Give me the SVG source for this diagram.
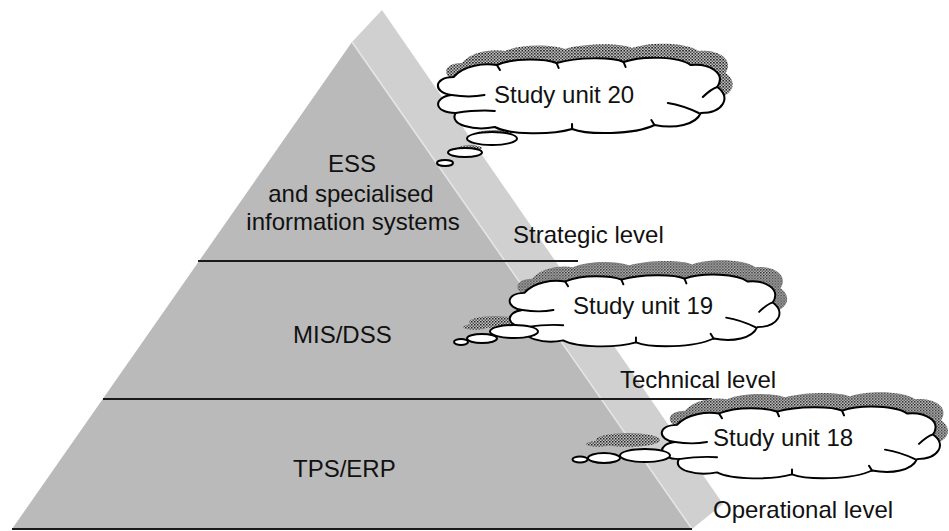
<svg xmlns="http://www.w3.org/2000/svg" xmlns:xlink="http://www.w3.org/1999/xlink" width="949" height="531" viewBox="0 0 949 531">
<style>
text{font-family:"Liberation Sans",Arial,sans-serif;font-size:24px;fill:#111}
.mid{text-anchor:middle}
.body{fill:#fff;stroke:#000;stroke-width:2;stroke-linejoin:round;vector-effect:non-scaling-stroke}
.hook{fill:none;stroke:#000;stroke-width:2;stroke-linecap:round;vector-effect:non-scaling-stroke}
.shadow{fill:url(#dots);stroke:none}
.puff{fill:#fff;stroke:#000;stroke-width:2}
.div{stroke:#1a1a1a;stroke-width:2}
</style>
<defs>
<pattern id="dots" width="3" height="3" patternUnits="userSpaceOnUse">
<rect width="3" height="3" fill="#c4c4c4"/>
<rect width="1.5" height="1.5" fill="#222"/>
<rect x="1.5" y="1.5" width="1.5" height="1.5" fill="#555"/>
</pattern>
<path id="cloud" d="M 20 22 C 30 10, 50 8, 62 10 C 80 2, 110 4, 120 8 C 140 2, 175 2, 185 7 C 205 0, 240 2, 250 10 C 268 8, 285 18, 276 32 C 290 42, 282 58, 260 58 C 255 70, 235 74, 215 70 C 195 80, 150 80, 135 74 C 115 80, 75 80, 60 72 C 40 76, 15 70, 22 58 C 0 58, 0 42, 18 40 C 0 38, 0 22, 20 22 Z"/>
<path id="hooks" d="M 18 40 C 30 42, 40 42, 50 40 M 22 58 C 35 56, 48 55, 60 56 M 276 32 C 270 34, 266 38, 262 42 M 258 58 C 250 54, 240 50, 228 48 M 62 10 L 65 15 M 120 8 L 122 13 M 185 7 L 187 12 M 215 70 L 212 65 M 135 74 L 135 69"/>
</defs>

<g id="pyramid">
<polygon points="382,10 723,504 692,529 352,42" fill="#d0d0d0"/>
<polygon points="352,42 12,529 692,529" fill="#bababa"/>
<line x1="352" y1="42" x2="692" y2="529" stroke="#e6e6e6" stroke-width="1.5"/>
</g>

<g id="dividers">
<line class="div" x1="198" y1="261" x2="578" y2="261"/>
<line class="div" x1="103" y1="399" x2="712" y2="399"/>
<line class="div" x1="12" y1="529" x2="692" y2="529"/>
</g>

<g id="level-strategic">
<text class="mid" x="352" y="172">ESS</text>
<text class="mid" x="351" y="202">and specialised</text>
<text class="mid" x="353" y="230">information systems</text>
<text x="513" y="243">Strategic level</text>
</g>
<g id="level-technical">
<text x="293" y="343">MIS/DSS</text>
<text x="620" y="388">Technical level</text>
</g>
<g id="level-operational">
<text x="293" y="477">TPS/ERP</text>
<text x="713" y="518">Operational level</text>
</g>

<g id="cloud-20">
<ellipse class="shadow" cx="470" cy="148" rx="12" ry="3"/>
<ellipse class="shadow" cx="495" cy="133" rx="18" ry="3"/>
<g transform="translate(433,55) scale(1.03,1)">
<use xlink:href="#cloud" class="shadow" transform="translate(8,-14)"/>
<use xlink:href="#cloud" class="body"/>
<use xlink:href="#hooks" class="hook"/>
</g>
<ellipse class="puff" cx="492" cy="138.5" rx="25" ry="6.5"/>
<ellipse class="puff" cx="465" cy="152.5" rx="17" ry="4.5"/>
<ellipse class="puff" cx="445" cy="163" rx="8" ry="3"/>
<text x="494" y="103">Study unit 20</text>
</g>

<g id="cloud-19">
<ellipse class="shadow" cx="495" cy="322" rx="26" ry="6"/>
<ellipse class="shadow" cx="475" cy="327" rx="12" ry="3"/>
<g transform="translate(505,272) scale(0.97,0.95)">
<use xlink:href="#cloud" class="shadow" transform="translate(8,-15)"/>
<use xlink:href="#cloud" class="body"/>
<use xlink:href="#hooks" class="hook"/>
</g>
<ellipse class="puff" cx="514" cy="331.5" rx="24" ry="6.5"/>
<ellipse class="puff" cx="482" cy="338.5" rx="15" ry="4.5"/>
<ellipse class="puff" cx="461" cy="342" rx="7" ry="3"/>
<text x="573" y="314">Study unit 19</text>
</g>

<g id="cloud-18">
<ellipse class="shadow" cx="628" cy="440" rx="32" ry="7"/>
<ellipse class="shadow" cx="598" cy="444" rx="12" ry="3"/>
<ellipse class="shadow" cx="612" cy="440" rx="10" ry="2"/>
<g transform="translate(657,404) scale(1,0.95)">
<use xlink:href="#cloud" class="shadow" transform="translate(8,-15)"/>
<use xlink:href="#cloud" class="body"/>
<use xlink:href="#hooks" class="hook"/>
</g>
<ellipse class="puff" cx="645" cy="455.5" rx="25" ry="6.5"/>
<ellipse class="puff" cx="604" cy="458" rx="16" ry="5"/>
<ellipse class="puff" cx="580" cy="459.5" rx="7.5" ry="3"/>
<text x="713" y="446">Study unit 18</text>
</g>
</svg>
